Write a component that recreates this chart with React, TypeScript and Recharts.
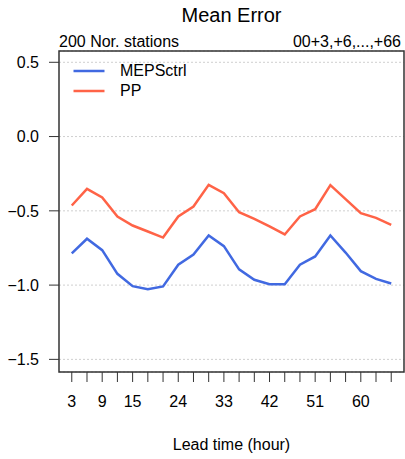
import React from "react";
import {
  LineChart,
  Line,
  XAxis,
  YAxis,
  CartesianGrid,
  ReferenceArea,
  Legend,
  Label,
} from "recharts";

const leadTimes = [3, 6, 9, 12, 15, 18, 21, 24, 27, 30, 33, 36, 39, 42, 45, 48, 51, 54, 57, 60, 63, 66];
const mepsCtrl = [-0.787, -0.688, -0.765, -0.924, -1.007, -1.027, -1.009, -0.863, -0.794, -0.666, -0.738, -0.894, -0.964, -0.994, -0.994, -0.863, -0.807, -0.666, -0.781, -0.906, -0.958, -0.989];
const pp = [-0.464, -0.352, -0.41, -0.538, -0.599, -0.639, -0.68, -0.538, -0.471, -0.325, -0.381, -0.509, -0.554, -0.605, -0.659, -0.538, -0.489, -0.327, -0.421, -0.516, -0.547, -0.594];
const xLabelTicks = [3, 9, 15, 24, 33, 42, 51, 60];
const yTicks = [-1.5, -1.0, -0.5, 0.0, 0.5];
const seriesNames = ["MEPSctrl", "PP"];
const seriesColors = ["#4169E1", "#FF6347"];

const data = leadTimes.map((t, i) => ({ t, MEPSctrl: mepsCtrl[i], PP: pp[i] }));

const X_DOMAIN: [number, number] = [0.48, 68.52];
const Y_DOMAIN: [number, number] = [-1.585, 0.576];
const FONT = "'Liberation Sans', Arial, Helvetica, sans-serif";

const LegendContent = () => (
  <div style={{ fontFamily: FONT, fontSize: 16, color: "#000" }}>
    {seriesNames.map((n, i) => (
      <div key={n} style={{ display: "flex", alignItems: "center", height: 20, lineHeight: "20px" }}>
        <svg width={32} height={20} style={{ display: "block" }}>
          <line x1={0.5} y1={10} x2={31.5} y2={10} stroke={seriesColors[i]} strokeWidth={2.5} />
        </svg>
        <span style={{ marginLeft: 15, whiteSpace: "nowrap" }}>{n}</span>
      </div>
    ))}
  </div>
);

export default function App() {
  return (
    <div
      style={{
        position: "absolute",
        left: 0,
        top: 0,
        width: 405,
        height: 459,
        background: "#fff",
        fontFamily: FONT,
      }}
    >
      <div
        style={{
          position: "absolute",
          left: 0,
          width: 463,
          top: 5,
          fontSize: 20,
          lineHeight: "20px",
          textAlign: "center",
          color: "#000",
        }}
      >
        Mean Error
      </div>
      <div style={{ position: "absolute", left: 59, top: 34, fontSize: 16, lineHeight: "16px", color: "#000" }}>
        200 Nor. stations
      </div>
      <div style={{ position: "absolute", right: 4, top: 34, fontSize: 16, lineHeight: "16px", color: "#000" }}>
        00+3,+6,...,+66
      </div>
      <LineChart width={405} height={459} data={data} margin={{ top: 51, right: 1, bottom: 0, left: 0 }}>
        <CartesianGrid vertical={false} stroke="#cfcfcf" strokeDasharray="2 2" />
        <XAxis
          dataKey="t"
          type="number"
          domain={X_DOMAIN}
          ticks={leadTimes}
          interval={0}
          allowDataOverflow
          height={87}
          axisLine={false}
          tickLine={{ stroke: "#333" }}
          tickSize={10}
          tickMargin={14}
          tick={{ fill: "#000", fontSize: 16 }}
          tickFormatter={(v: number) => (xLabelTicks.includes(v) ? String(v) : "")}
        >
          <Label value="Lead time (hour)" position="insideBottom" offset={9} fill="#000" fontSize={16} />
        </XAxis>
        <YAxis
          type="number"
          domain={Y_DOMAIN}
          ticks={yTicks}
          interval={0}
          allowDataOverflow
          width={59}
          axisLine={false}
          tickLine={{ stroke: "#333" }}
          tickSize={10}
          tickMargin={10}
          tick={{ fill: "#000", fontSize: 16 }}
          tickFormatter={(v: number) => v.toFixed(1).replace("-", "\u2212")}
        />
        <ReferenceArea
          x1={X_DOMAIN[0]}
          x2={X_DOMAIN[1]}
          y1={Y_DOMAIN[0]}
          y2={Y_DOMAIN[1]}
          fill="none"
          stroke="#333"
          strokeWidth={1.5}
          ifOverflow="visible"
        />
        <Line type="linear" dataKey="MEPSctrl" stroke={seriesColors[0]} strokeWidth={2.5} dot={false} isAnimationActive={false} />
        <Line type="linear" dataKey="PP" stroke={seriesColors[1]} strokeWidth={2.5} dot={false} isAnimationActive={false} />
        <Legend
          layout="vertical"
          align="center"
          verticalAlign="middle"
          content={LegendContent}
          wrapperStyle={{ left: 73, top: 60.7, width: 140, height: 40 }}
        />
      </LineChart>
    </div>
  );
}
